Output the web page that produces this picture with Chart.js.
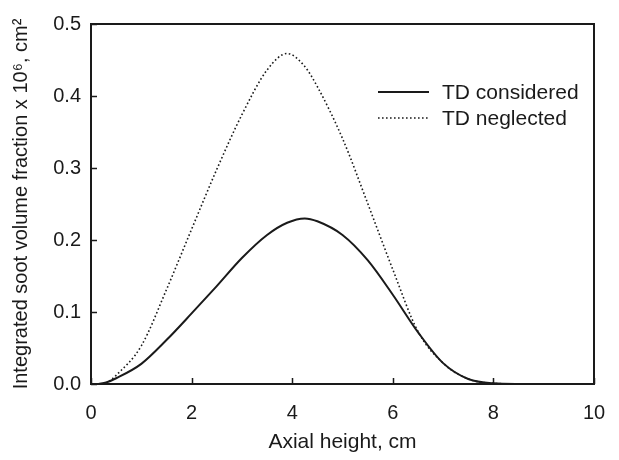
<!DOCTYPE html>
<html>
<head>
<meta charset="utf-8">
<script src="https://cdn.jsdelivr.net/npm/chart.js@4/dist/chart.umd.min.js"></script>
<style>
  html, body { margin: 0; padding: 0; background: #fff; }
  canvas { display: block; }
</style>
</head>
<body>
<canvas id="sootChart" width="619" height="460"></canvas>
<script>
// axial height, cm
const height = [0.15, 0.3, 0.5, 1.0, 1.5, 2.0, 2.5, 3.0, 3.5, 3.9, 4.25, 4.5, 5.0, 5.5, 6.0, 6.5, 7.0, 7.5, 8.0, 8.6];
// integrated soot volume fraction x 10^6, cm^2
const tdConsidered = [0, 0.002, 0.008, 0.028, 0.061, 0.098, 0.136, 0.175, 0.207, 0.224, 0.230, 0.226, 0.207, 0.172, 0.124, 0.072, 0.029, 0.007, 0.001, 0];
const tdNeglected = [null, 0, 0.012, 0.053, 0.131, 0.215, 0.298, 0.374, 0.436, 0.459, 0.441, 0.413, 0.341, 0.251, 0.159, 0.073, 0.029, 0.007, 0.001, 0];

const xTicks = [0, 2, 4, 6, 8, 10];
const yTicks = [0, 0.1, 0.2, 0.3, 0.4, 0.5];

const ink = '#1a1a1a';
const fontFamily = '"Liberation Sans", Arial, sans-serif';

function toPoints(values) {
  return height.map((h, i) => ({ x: h, y: values[i] }));
}

// frame, inward ticks and the legend inside the plot
const framePlugin = {
  id: 'frame',
  afterDatasetsDraw(chart) {
    const { ctx, chartArea: a, scales } = chart;
    ctx.save();
    ctx.strokeStyle = ink;
    ctx.lineWidth = 1.5;
    ctx.beginPath();
    xTicks.forEach(v => {
      const px = Math.round(scales.x.getPixelForValue(v)) + 0.5;
      ctx.moveTo(px, a.bottom);
      ctx.lineTo(px, a.bottom - 6);
    });
    yTicks.forEach(v => {
      const py = Math.round(scales.y.getPixelForValue(v)) + 0.5;
      ctx.moveTo(a.left, py);
      ctx.lineTo(a.left + 6, py);
    });
    ctx.stroke();

    ctx.lineWidth = 2;
    ctx.strokeRect(a.left, a.top, a.right - a.left, a.bottom - a.top);

    // legend
    ctx.font = '21px ' + fontFamily;
    ctx.fillStyle = ink;
    ctx.textBaseline = 'middle';
    ctx.textAlign = 'left';
    chart.data.datasets.forEach((ds, i) => {
      const y = 92 + i * 26;
      ctx.beginPath();
      ctx.lineWidth = ds.borderWidth;
      ctx.setLineDash(ds.borderDash || []);
      ctx.moveTo(378, y);
      ctx.lineTo(429, y);
      ctx.stroke();
      ctx.setLineDash([]);
      ctx.fillText(ds.label, 442, y + 1);
    });
    ctx.restore();
  }
};

const chart = new Chart(document.getElementById('sootChart'), {
  type: 'line',
  data: {
    datasets: [
      {
        label: 'TD considered',
        data: toPoints(tdConsidered),
        borderColor: ink,
        borderWidth: 2,
        pointRadius: 0,
        cubicInterpolationMode: 'monotone'
      },
      {
        label: 'TD neglected',
        data: toPoints(tdNeglected),
        borderColor: ink,
        borderWidth: 1.6,
        borderDash: [1.6, 2.4],
        pointRadius: 0,
        cubicInterpolationMode: 'monotone'
      }
    ]
  },
  options: {
    responsive: false,
    animation: false,
    layout: { padding: { left: 0, right: 0, top: 24, bottom: 0 } },
    plugins: {
      legend: { display: false },
      tooltip: { enabled: false }
    },
    scales: {
      x: {
        type: 'linear',
        min: 0,
        max: 10,
        afterFit: s => { s.height = 76; s.paddingLeft = 0; s.paddingRight = 25; },
        afterBuildTicks: s => { s.ticks = xTicks.map(v => ({ value: v })); },
        grid: { display: false, drawTicks: false },
        border: { display: false },
        ticks: { color: ink, padding: 17, font: { size: 20, family: fontFamily } },
        title: {
          display: true,
          text: 'Axial height, cm',
          color: ink,
          padding: { bottom: 5 },
          font: { size: 21, family: fontFamily }
        }
      },
      y: {
        min: 0,
        max: 0.5,
        afterFit: s => { s.width = 91; },
        afterBuildTicks: s => { s.ticks = yTicks.map(v => ({ value: v })); },
        grid: { display: false, drawTicks: false },
        border: { display: false },
        ticks: {
          color: ink,
          padding: 10,
          font: { size: 20, family: fontFamily },
          callback: v => v.toFixed(1)
        },
        title: {
          display: true,
          text: 'Integrated soot volume fraction x 10\u2076, cm\u00b2',
          color: ink,
          padding: { top: 9 },
          font: { size: 20, family: fontFamily }
        }
      }
    }
  },
  plugins: [framePlugin]
});
</script>
</body>
</html>
